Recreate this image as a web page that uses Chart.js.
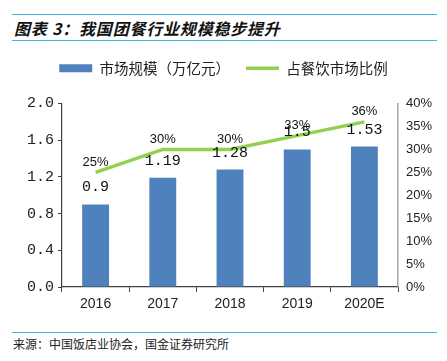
<!DOCTYPE html>
<html>
<head>
<meta charset="utf-8">
<script src="https://cdn.jsdelivr.net/npm/chart.js@4"></script>
<style>
  body { margin: 0; background: #fff; width: 447px; height: 361px; position: relative; overflow: hidden; }
  .rule { position: absolute; left: 12px; width: 425px; height: 0; border-top: 1.5px solid #45b4ea; }
  #title { position: absolute; left: 14px; top: 16px; font: italic bold 16px "Noto Sans CJK SC", sans-serif; letter-spacing: 0.8px; color: #111; }
  #source { position: absolute; left: 13px; top: 335px; font: 12px "Noto Sans CJK SC", sans-serif; color: #222; }
  #wrap { position: absolute; left: 0; top: 28px; width: 447px; height: 302px; }
</style>
</head>
<body>
<div class="rule" style="top:14px"></div>
<div id="title">图表 3：我国团餐行业规模稳步提升</div>
<div class="rule" style="top:40px"></div>
<div id="wrap"><canvas id="myChart"></canvas></div>
<div class="rule" style="top:332px"></div>
<div id="source">来源：中国饭店业协会，国金证券研究所</div>

<script>
// ============  data ============ //
const years = ['2016', '2017', '2018', '2019', '2020E'];
const marketSize = [0.9, 1.19, 1.28, 1.5, 1.53];      // 市场规模（万亿元）
const shareOfCatering = [25, 30, 30, 33, 36];          // 占餐饮市场比例 (%)

const ctx = document.getElementById('myChart').getContext('2d');

// 数据标签 (no datalabels plugin offline)
const valueLabels = {
    id: 'valueLabels',
    afterDatasetsDraw(chart) {
        const c = chart.ctx;
        c.save();
        c.textAlign = 'center';
        c.textBaseline = 'middle';
        c.fillStyle = '#111';
        chart.getDatasetMeta(0).data.forEach((bar, i) => {
            c.font = '15px "Liberation Mono", monospace';
            c.fillText(String(marketSize[i]), bar.x, bar.y - 17);
        });
        chart.getDatasetMeta(1).data.forEach((pt, i) => {
            c.font = '13px "Liberation Sans", Arial, sans-serif';
            c.fillText(shareOfCatering[i] + '%', pt.x, pt.y - 10);
        });
        c.restore();
    }
};

// 图例下方留白
const legendGap = {
    id: 'legendGap',
    beforeInit(chart) {
        const fit = chart.legend.fit;
        chart.legend.fit = function () {
            fit.bind(chart.legend)();
            this.height += 18;
        };
    }
};

let scaleChart = new Chart(ctx, {
    type: 'bar',
    data: {
        labels: years,
        datasets: [{
            label: '市场规模（万亿元）',
            data: marketSize,
            backgroundColor: '#4f81bd',
            borderWidth: 0,
            barPercentage: 0.4,
            categoryPercentage: 1,
            yAxisID: 'y',
            pointStyle: 'rect',
            order: 2
        }, {
            type: 'line',
            label: '占餐饮市场比例',
            data: shareOfCatering,
            borderColor: '#92d050',
            backgroundColor: '#92d050',
            borderWidth: 3.5,
            pointRadius: 0,
            pointStyle: 'line',
            tension: 0,
            yAxisID: 'y1',
            order: 1
        }]
    },
    options: {
        responsive: true,
        maintainAspectRatio: false,
        animation: false,
        layout: { padding: { top: 17, left: 0, right: 0, bottom: 0 } },
        plugins: {
            legend: {
                labels: {
                    usePointStyle: true,
                    pointStyleWidth: 33,
                    boxHeight: 8,
                    padding: 16,
                    color: '#222',
                    font: { family: '"Noto Sans CJK SC", sans-serif', size: 14.5 },
                    sort: (a, b) => a.datasetIndex - b.datasetIndex
                }
            },
            tooltip: { enabled: false }
        },
        scales: {
            x: {
                grid: { drawOnChartArea: false, color: '#404040', tickLength: 5, offset: true },
                border: { color: '#404040', width: 1.2 },
                ticks: { color: '#222', font: { family: '"Liberation Sans", Arial', size: 14 }, padding: 4 },
                afterFit(s) { s.height = 43; }
            },
            y: {
                position: 'left',
                min: 0, max: 2.0,
                ticks: {
                    stepSize: 0.4,
                    color: '#222',
                    font: { family: '"Liberation Mono", monospace', size: 15 },
                    callback: v => v.toFixed(1),
                    padding: 4
                },
                grid: { drawOnChartArea: false, color: '#404040', tickLength: 4 },
                border: { color: '#404040', width: 1.2 },
                afterFit(s) { s.width = 62; }
            },
            y1: {
                position: 'right',
                min: 0, max: 40,
                ticks: {
                    stepSize: 5,
                    color: '#222',
                    font: { family: '"Liberation Sans", Arial', size: 13 },
                    callback: v => v + '%',
                    padding: 8
                },
                grid: { drawOnChartArea: false, drawTicks: false },
                border: { color: '#a6a6a6', width: 1.5 },
                afterFit(s) { s.width = 49; }
            }
        }
    },
    plugins: [valueLabels, legendGap]
});
</script>
</body>
</html>
